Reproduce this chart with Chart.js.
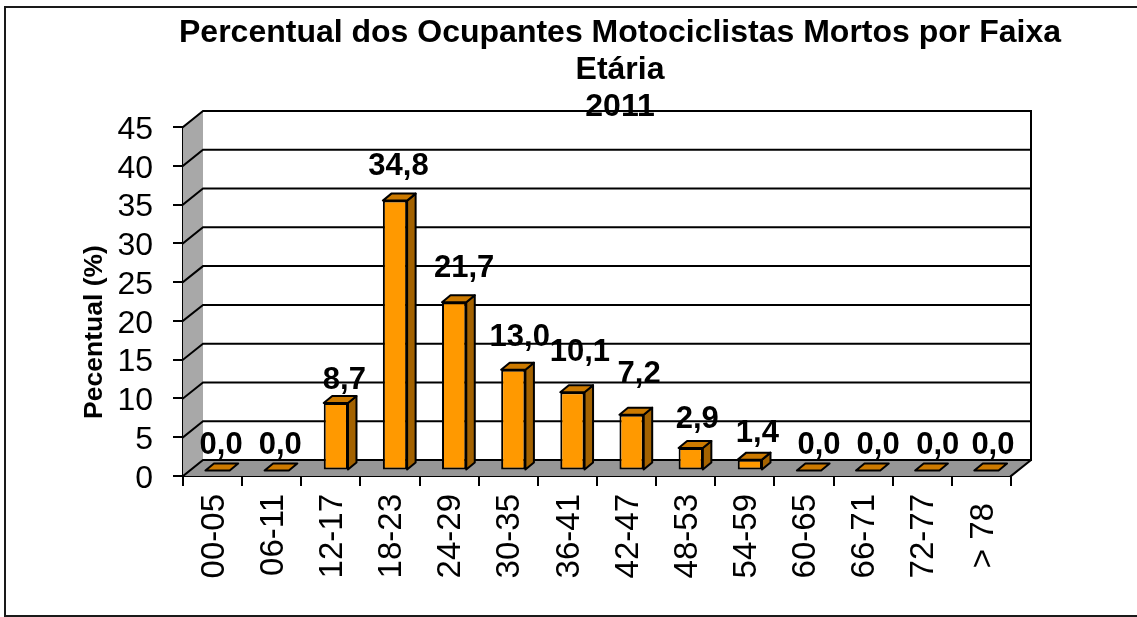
<!DOCTYPE html>
<html>
<head>
<meta charset="utf-8">
<title>Percentual dos Ocupantes Motociclistas Mortos</title>
<script src="https://cdn.jsdelivr.net/npm/chart.js@4"></script>
<style>
    html, body { margin: 0; padding: 0; background: #fff; }
    canvas { display: block; }
</style>
</head>
<body>
<canvas id="plot1" width="1137" height="617"></canvas>
<script>
const categories = ["00-05", "06-11", "12-17", "18-23", "24-29", "30-35", "36-41", "42-47", "48-53", "54-59", "60-65", "66-71", "72-77", "> 78"];
const percentual = [0.0, 0.0, 8.7, 34.8, 21.7, 13.0, 10.1, 7.2, 2.9, 1.4, 0.0, 0.0, 0.0, 0.0];
const titleLines = ["Percentual dos Ocupantes Motociclistas Mortos por Faixa", "Etária", "2011"];
const yAxisTitle = "Pecentual (%)";

// the value labels in the original were moved by hand, so each has its own nudge
const labelDx = [3, 3, 8, 3, 9.5, 6, 7, 7, 6, 7, 9.5, 9.5, 10, 6];
const labelDy = [-16.5, -16.5, -14, -25.5, -25, -24, -31, -32, -20, -17.5, -16.5, -16.5, -16.5, -16.5];

const FONT = "'Liberation Sans', Arial, sans-serif";
const wallDx = 20, wallDy = 16;     // depth of the fake 3D box
const barDx = 5, barDy = 5.5;       // bars stand in the middle of the floor
const sideDx = 8.5, sideDy = 7;     // depth of one bar

function poly(ctx, pts, fill, stroke) {
    ctx.beginPath();
    pts.forEach((p, i) => i ? ctx.lineTo(p[0], p[1]) : ctx.moveTo(p[0], p[1]));
    ctx.closePath();
    if (fill) {
        ctx.fillStyle = fill;
        ctx.fill();
    }
    if (stroke) {
        ctx.strokeStyle = stroke;
        ctx.lineWidth = 2;
        ctx.stroke();
    }
}

const box3d = {
    id: "box3d",
    afterLayout(chart) {
        // title is centred over the whole box, not over the front plane
        chart.titleBlock.left = 103;
        chart.titleBlock.right = 1137;
    },
    beforeDraw(chart) {
        const ctx = chart.ctx;
        ctx.save();
        ctx.strokeStyle = "#1a1a1a";
        ctx.lineWidth = 2;
        ctx.strokeRect(5, 7, 1140, 609);
        ctx.restore();
    },
    beforeDatasetsDraw(chart) {
        const ctx = chart.ctx;
        const { left, right, top, bottom } = chart.chartArea;
        const y = chart.scales.y;
        ctx.save();
        ctx.lineCap = "square";
        poly(ctx, [[left, bottom], [left + wallDx, bottom - wallDy], [left + wallDx, top - wallDy], [left, top]], "#a8a8a8");
        poly(ctx, [[left, bottom], [right, bottom], [right + wallDx, bottom - wallDy], [left + wallDx, bottom - wallDy]], "#969696");

        ctx.strokeStyle = "#000";
        ctx.lineWidth = 2;
        y.ticks.forEach(t => {
            const py = y.getPixelForValue(t.value);
            ctx.beginPath();
            ctx.moveTo(left, py);
            ctx.lineTo(left + wallDx, py - wallDy);
            ctx.lineTo(right + wallDx, py - wallDy);
            ctx.stroke();
        });
        ctx.beginPath();
        ctx.moveTo(right + wallDx, top - wallDy);
        ctx.lineTo(right + wallDx, bottom - wallDy);
        ctx.lineTo(right, bottom);
        ctx.stroke();
        ctx.restore();
    },
    beforeDatasetDraw(chart) {
        chart.ctx.save();
        chart.ctx.translate(barDx, -barDy);
    },
    afterDatasetDraw(chart, args) {
        const ctx = chart.ctx;
        args.meta.data.forEach(bar => {
            const l = bar.x - bar.width / 2, r = bar.x + bar.width / 2;
            const t = bar.y, b = bar.base;
            ctx.lineJoin = "round";
            if (b > t) {
                poly(ctx, [[r, t], [r + sideDx, t - sideDy], [r + sideDx, b - sideDy], [r, b]], "#a36200", "#000");
            }
            poly(ctx, [[l, t], [l + sideDx, t - sideDy], [r + sideDx, t - sideDy], [r, t]], "#cc7a00", "#000");
        });
        ctx.restore();
    },
    afterDatasetsDraw(chart) {
        const ctx = chart.ctx;
        const bars = chart.getDatasetMeta(0).data;
        ctx.save();
        ctx.fillStyle = "#000";
        ctx.font = "bold 31px " + FONT;
        ctx.textAlign = "center";
        ctx.textBaseline = "alphabetic";
        percentual.forEach((v, i) => {
            const text = v.toFixed(1).replace(".", ",");
            ctx.fillText(text, bars[i].x + 5.5 + labelDx[i], bars[i].y - barDy + labelDy[i]);
        });
        ctx.restore();

        // axis title sits well below the middle of the axis, the library can only centre it
        ctx.save();
        ctx.translate(95, 332);
        ctx.rotate(-Math.PI / 2);
        ctx.fillStyle = "#000";
        ctx.font = "bold 26.5px " + FONT;
        ctx.textAlign = "center";
        ctx.textBaseline = "middle";
        ctx.fillText(yAxisTitle, 0, 0);
        ctx.restore();
    }
};

new Chart(document.getElementById("plot1"), {
    type: "bar",
    data: {
        labels: categories,
        datasets: [
            {
                label: "Percentual",
                data: percentual,
                backgroundColor: "#ff9900",
                borderColor: "#000",
                borderWidth: 2,
                borderSkipped: false,
                categoryPercentage: 1,
                barPercentage: 0.41,
                clip: false
            }
        ]
    },
    plugins: [box3d],
    options: {
        responsive: false,
        animation: false,
        layout: {
            padding: { left: 80, right: 126, top: 0, bottom: 0 }
        },
        plugins: {
            legend: { display: false },
            tooltip: { enabled: false },
            title: {
                display: true,
                text: titleLines,
                color: "#000",
                font: { family: FONT, size: 32, weight: "bold", lineHeight: "37px" },
                padding: { top: 15, bottom: 1 }
            }
        },
        scales: {
            x: {
                afterFit: s => { s.height = 141; },
                border: { color: "#000", width: 2 },
                grid: { drawOnChartArea: false, color: "#000", lineWidth: 2, tickLength: 10 },
                ticks: {
                    color: "#000",
                    autoSkip: false,
                    minRotation: 90,
                    maxRotation: 90,
                    padding: 8,
                    labelOffset: 2,
                    font: { family: FONT, size: 33 },
                    // short label gets a trailing space so it sits centred in the column
                    callback: (v, i) => categories[i].length < 5 ? categories[i] + "\u00a0" : categories[i]
                }
            },
            y: {
                min: 0,
                max: 45,
                afterFit: s => { s.width = 103; },
                border: { color: "#000", width: 2 },
                grid: { drawOnChartArea: false, color: "#000", lineWidth: 2, tickLength: 10 },
                ticks: {
                    stepSize: 5,
                    autoSkip: false,
                    color: "#000",
                    padding: 20,
                    labelOffset: 3,
                    font: { family: FONT, size: 32 }
                }
            }
        }
    }
});
</script>
</body>
</html>
